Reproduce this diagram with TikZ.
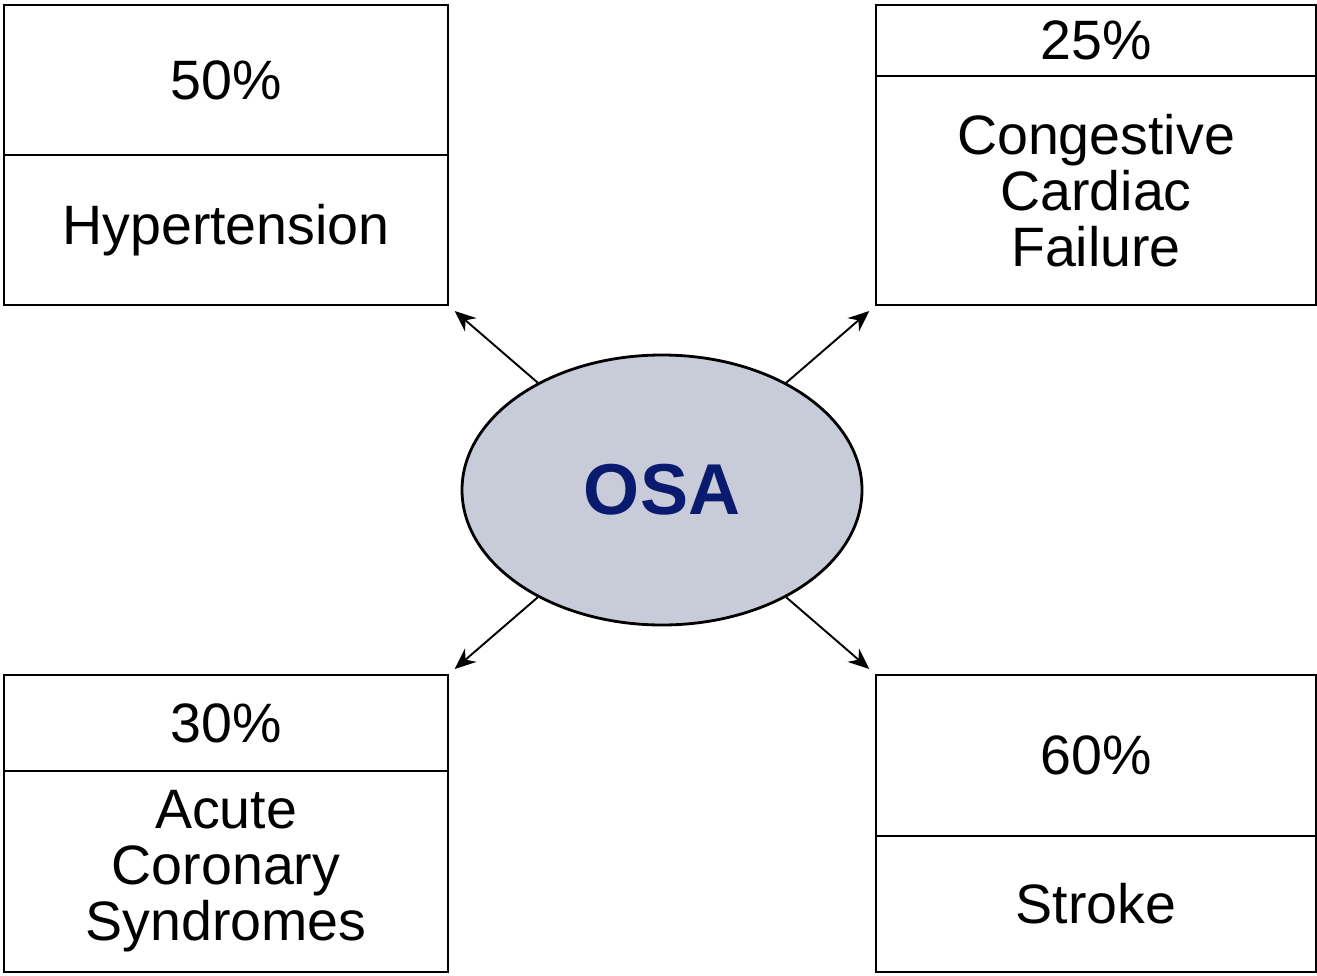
\documentclass[tikz,border=0pt]{standalone}
\usepackage{fontspec}
\setmainfont{Liberation Sans}
\usetikzlibrary{shapes.geometric,arrows.meta}
\definecolor{osafill}{HTML}{C8CBD8}
\definecolor{osatext}{HTML}{0A1A6E}
\begin{document}
\begin{tikzpicture}
  [part/.style={draw,line width=0.8pt,inner sep=0pt,align=center,
     font=\fontsize{15.8}{15.9}\selectfont},
   link/.style={-{Stealth[length=6pt,width=5pt]},line width=0.55pt}]
  \useasboundingbox (0,0) rectangle (13.17,9.75);

  \node[part,minimum width=4.44cm,minimum height=1.50cm] (p1) at (2.26,8.95) {50\%};
  \node[part,minimum width=4.44cm,minimum height=1.50cm] (d1) at (2.26,7.45) {Hypertension};
  \node[part,minimum width=4.40cm,minimum height=0.71cm] (p2) at (10.96,9.345) {25\%};
  \node[part,minimum width=4.40cm,minimum height=2.29cm] (d2) at (10.96,7.845) {Congestive\\Cardiac\\Failure};
  \node[part,minimum width=4.44cm,minimum height=0.96cm] (p3) at (2.26,2.52) {30\%};
  \node[part,minimum width=4.44cm,minimum height=2.01cm] (d3) at (2.26,1.035) {Acute\\Coronary\\Syndromes};
  \node[part,minimum width=4.40cm,minimum height=1.61cm] (p4) at (10.96,2.195) {60\%};
  \node[part,minimum width=4.40cm,minimum height=1.36cm] (d4) at (10.96,0.71) {Stroke};

  \node[ellipse,draw,line width=0.8pt,fill=osafill,minimum width=4.00cm,minimum height=2.70cm,
    text=osatext,font=\fontsize{20.5}{22}\selectfont\bfseries] (osa) at (6.62,4.85) {OSA};

  \foreach \to in {d1.south east,d2.south west,p3.north east,p4.north west}
    \draw[link,shorten >=2pt] (osa) -- (\to);

\end{tikzpicture}
\end{document}
